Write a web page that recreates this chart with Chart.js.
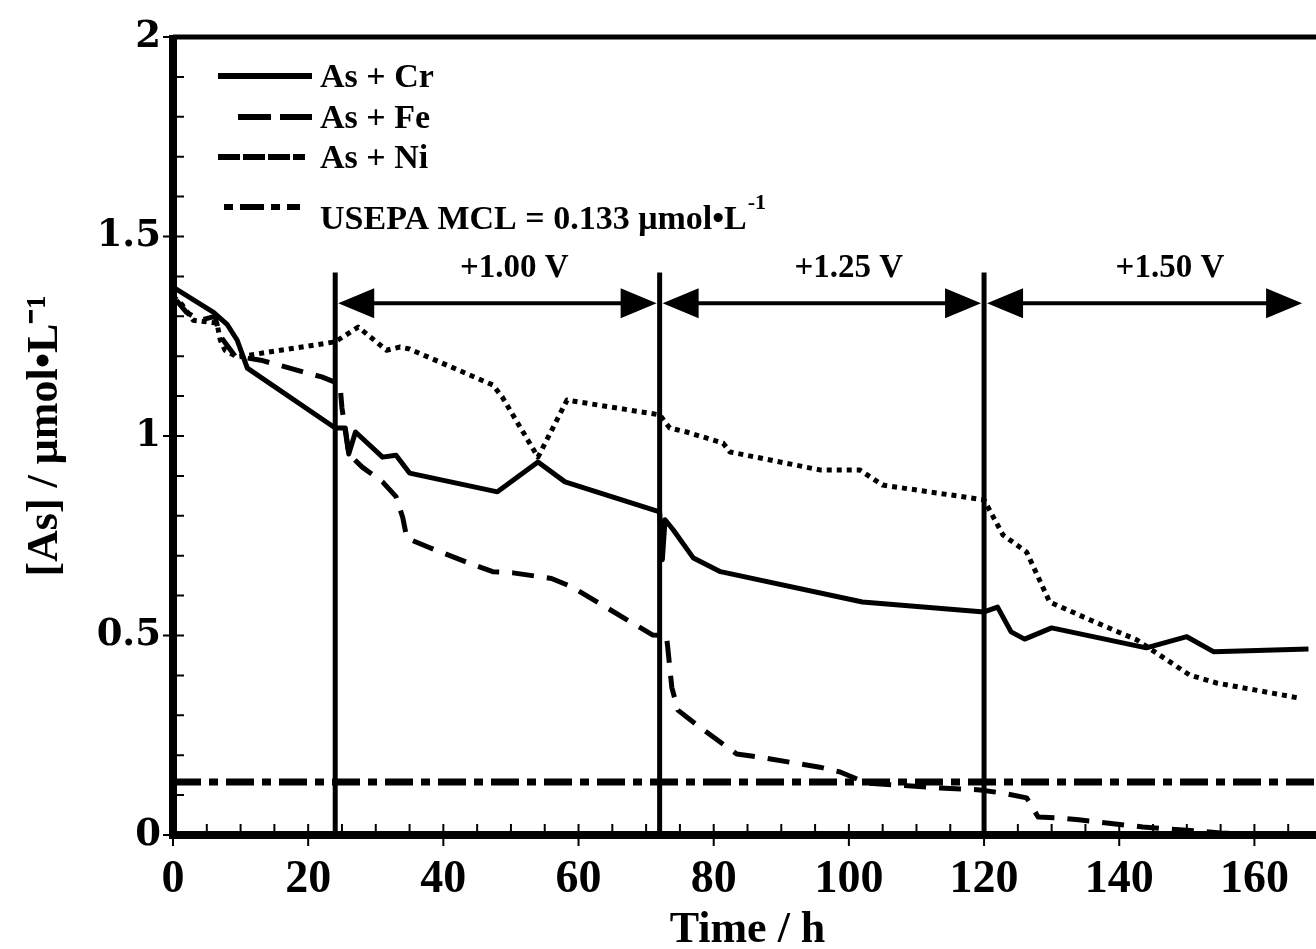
<!DOCTYPE html>
<html>
<head>
<meta charset="utf-8">
<script src="https://cdn.jsdelivr.net/npm/chart.js@4.4.1/dist/chart.umd.min.js"></script>
<style>
  body { margin: 0; overflow: hidden; background: #fff; }
  #wrap { width: 1322px; height: 949px; }
</style>
</head>
<body>
<div id="wrap"><canvas id="chart" width="1322" height="949"></canvas></div>
<script>
// values
const crTime = [0, 6, 8, 9.5, 11, 24, 25.5, 26, 27, 31, 33, 35, 48, 54, 58, 72, 72.4, 72.8, 74, 77, 81, 102, 120, 122, 124, 126, 130, 144, 150, 154, 168]
const crConc = [1.373, 1.31, 1.28, 1.24, 1.17, 1.02, 1.02, 0.955, 1.01, 0.947, 0.952, 0.907, 0.86, 0.935, 0.885, 0.81, 0.69, 0.79, 0.765, 0.694, 0.66, 0.584, 0.559, 0.571, 0.509, 0.491, 0.519, 0.469, 0.497, 0.459, 0.466]

const feTime = [0.5, 2, 4, 6.2, 7, 9.2, 13, 22, 24.7, 25, 26, 28, 31, 33, 34, 34.6, 38, 44, 47.3, 50.3, 56, 59, 68, 71, 73, 73.2, 73.8, 74.7, 77.5, 83.4, 86.4, 95.7, 98.7, 102.7, 113.5, 119.4, 122.8, 126.3, 128, 131, 134, 143.5, 150, 155, 159, 168]
const feConc = [1.34, 1.31, 1.29, 1.30, 1.25, 1.20, 1.19, 1.148, 1.13, 1.07, 0.955, 0.922, 0.885, 0.848, 0.795, 0.744, 0.72, 0.68, 0.66, 0.657, 0.643, 0.622, 0.531, 0.501, 0.50, 0.47, 0.37, 0.313, 0.276, 0.203, 0.196, 0.17, 0.158, 0.13, 0.118, 0.113, 0.105, 0.093, 0.045, 0.043, 0.038, 0.02, 0.012, 0.005, 0.002, 0]

const niTime = [0, 1.3, 3, 6.5, 7, 7.7, 9.5, 24, 27.4, 31.6, 33.6, 35, 47.3, 48.7, 54, 58.3, 72, 73.5, 76, 81.4, 82.4, 95.7, 101.6, 105, 120, 122.8, 126.3, 129.7, 135.7, 142.6, 150.4, 154.4, 166.7]
const niConc = [1.35, 1.33, 1.29, 1.283, 1.24, 1.215, 1.198, 1.236, 1.273, 1.215, 1.223, 1.218, 1.128, 1.098, 0.947, 1.09, 1.053, 1.02, 1.01, 0.982, 0.96, 0.915, 0.915, 0.877, 0.84, 0.752, 0.709, 0.584, 0.539, 0.489, 0.401, 0.381, 0.343]

const mclValue = 0.133
const stepTimes = [24, 72, 120]
const stepTop = 1.41
const arrowEnd = 167.5
const stepLabels = ['+1.00 V', '+1.25 V', '+1.50 V']
const stepLabelTimes = [50.5, 100, 147.5]
const legendNames = ['As + Cr', 'As + Fe', 'As + Ni']
const xTickValues = [0, 20, 40, 60, 80, 100, 120, 140, 160]

function pts(xs, ys) {
    return xs.map((x, i) => ({ x: x, y: ys[i] }))
}

let datasets = [
    { label: 'As + Ni', data: pts(niTime, niConc), borderWidth: 5, borderDash: [5, 5] },
    { label: 'As + Fe', data: pts(feTime, feConc), borderWidth: 5, borderDash: [22, 13] },
    { label: 'As + Cr', data: pts(crTime, crConc), borderWidth: 5 },
    { label: 'MCL', data: [{ x: 0, y: mclValue }, { x: 170, y: mclValue }], borderWidth: 7, borderDash: [28, 8, 9, 8] }
]
stepTimes.forEach(t => {
    datasets.push({ label: 'step', data: [{ x: t, y: 0 }, { x: t, y: stepTop }], borderWidth: 5 })
})
datasets = datasets.map(d => Object.assign({
    showLine: true, pointRadius: 0, borderColor: '#000', backgroundColor: '#000',
    fill: false, tension: 0, borderCapStyle: 'butt', borderJoinStyle: 'round'
}, d))

const serif = '"Liberation Serif", "Times New Roman", serif'

/*
** frame, ticks, arrows and legend
*/
const decor = {
    id: 'decor',
    afterDraw(chart) {
        const ctx = chart.ctx
        const xs = chart.scales.x, ys = chart.scales.y
        const area = chart.chartArea
        ctx.save()
        ctx.strokeStyle = '#000'
        ctx.fillStyle = '#000'

        // top border
        ctx.lineWidth = 5
        ctx.beginPath()
        ctx.moveTo(area.left, area.top)
        ctx.lineTo(area.right, area.top)
        ctx.stroke()
        // left + bottom axes
        ctx.lineWidth = 8
        ctx.beginPath()
        ctx.moveTo(area.left, area.top - 2)
        ctx.lineTo(area.left, area.bottom + 4)
        ctx.moveTo(area.left - 4, area.bottom)
        ctx.lineTo(area.right, area.bottom)
        ctx.stroke()

        // ticks
        ctx.lineWidth = 2
        ctx.beginPath()
        for (let v = 0; v <= 2.0001; v += 0.1) {
            const y = ys.getPixelForValue(v)
            ctx.moveTo(area.left + 4, y)
            ctx.lineTo(area.left + 11, y)
        }
        for (let v = 0; v <= 2.0001; v += 0.5) {
            const y = ys.getPixelForValue(v)
            ctx.moveTo(area.left - 4, y)
            ctx.lineTo(area.left - 10, y)
        }
        for (let v = 5; v <= 170; v += 5) {
            const x = xs.getPixelForValue(v)
            ctx.moveTo(x, area.bottom - 4)
            ctx.lineTo(x, area.bottom - 11)
        }
        xTickValues.forEach(v => {
            const x = xs.getPixelForValue(v)
            ctx.moveTo(x, area.bottom + 4)
            ctx.lineTo(x, area.bottom + 11)
        })
        ctx.stroke()

        // potential step arrows
        const ay = ys.getPixelForValue(1.333)
        const ends = stepTimes.concat([arrowEnd])
        ctx.lineWidth = 4
        for (let i = 0; i < stepTimes.length; i++) {
            const x1 = xs.getPixelForValue(ends[i]) + 3
            const x2 = xs.getPixelForValue(ends[i + 1]) - 3
            ctx.beginPath()
            ctx.moveTo(x1 + 10, ay)
            ctx.lineTo(x2 - 10, ay)
            ctx.stroke()
            ctx.beginPath()
            ctx.moveTo(x1, ay)
            ctx.lineTo(x1 + 36, ay - 15)
            ctx.lineTo(x1 + 36, ay + 15)
            ctx.closePath()
            ctx.moveTo(x2, ay)
            ctx.lineTo(x2 - 36, ay - 15)
            ctx.lineTo(x2 - 36, ay + 15)
            ctx.closePath()
            ctx.fill()
        }
        ctx.font = 'bold 33px ' + serif
        ctx.textAlign = 'center'
        ctx.textBaseline = 'middle'
        stepLabels.forEach((s, i) => {
            ctx.fillText(s, xs.getPixelForValue(stepLabelTimes[i]), 268)
        })

        // legend
        const lx2 = 312, tx = 320
        const rows = [76, 117, 157]
        const dashes = [[], [33, 9], [22, 3, 22, 3, 22, 3, 12, 100]]
        const starts = [218, 238, 218]
        ctx.lineWidth = 6
        rows.forEach((y, i) => {
            ctx.setLineDash(dashes[i])
            ctx.beginPath()
            ctx.moveTo(starts[i], y)
            ctx.lineTo(lx2, y)
            ctx.stroke()
        })
        ctx.setLineDash([9, 7, 24, 7])
        ctx.beginPath()
        ctx.moveTo(224, 207)
        ctx.lineTo(300, 207)
        ctx.stroke()
        ctx.setLineDash([])

        ctx.font = 'bold 34px ' + serif
        ctx.textAlign = 'left'
        legendNames.forEach((n, i) => ctx.fillText(n, tx, rows[i] + 2))
        const mcl = 'USEPA MCL = ' + mclValue + ' \u03bcmol\u2022L'
        ctx.fillText(mcl, tx, 220)
        const w = ctx.measureText(mcl).width
        ctx.font = 'bold 22px ' + serif
        ctx.fillText('-1', tx + w + 1, 203)
        ctx.restore()
    }
}

new Chart(document.getElementById('chart').getContext('2d'), {
    type: 'scatter',
    data: { datasets: datasets },
    options: {
        responsive: false,
        animation: false,
        layout: { padding: { top: 37, right: 0, left: 0, bottom: 0 } },
        plugins: { legend: { display: false }, tooltip: { enabled: false } },
        scales: {
            x: {
                type: 'linear', min: 0, max: 170,
                grid: { display: false, drawTicks: false },
                border: { display: false },
                afterBuildTicks: s => { s.ticks = xTickValues.map(v => ({ value: v })) },
                afterFit: s => { s.height = 114 },
                ticks: { autoSkip: false, maxRotation: 0, color: '#000', padding: 18,
                         font: { family: serif, size: 46, weight: 'bold' } },
                title: { display: true, text: 'Time / h', color: '#000', padding: { top: 0, bottom: -4 },
                         font: { family: serif, size: 44, weight: 'bold', lineHeight: 1 } }
            },
            y: {
                min: 0, max: 2,
                grid: { display: false, drawTicks: false },
                border: { display: false },
                afterFit: s => { s.width = 173 },
                ticks: { stepSize: 0.5, color: '#000', padding: 12, callback: v => String(v),
                         font: { family: '"DejaVu Serif", serif', size: 37, weight: 'bold' } },
                title: { display: true, text: '[As] / \u03bcmol\u2022L\u207b\u00b9', color: '#000', padding: { top: 24, bottom: 0 },
                         font: { family: serif, size: 44, weight: 'bold', lineHeight: 1 } }
            }
        }
    },
    plugins: [decor]
});
</script>
</body>
</html>
